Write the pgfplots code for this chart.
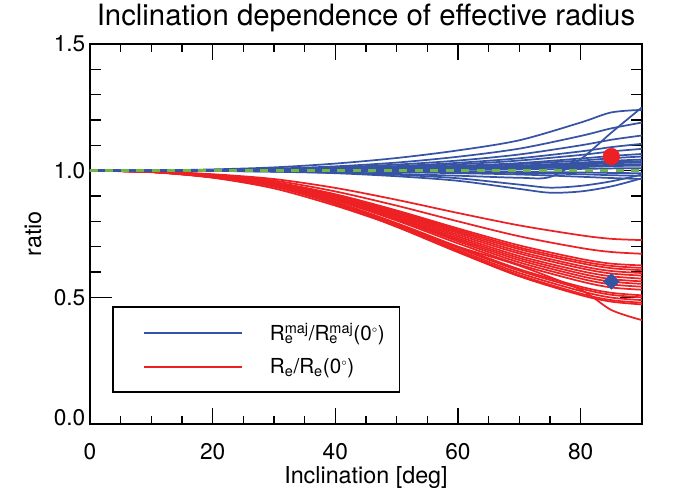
\documentclass[border=0pt]{standalone}
\usepackage{pgfplots}
\pgfplotsset{compat=1.18}
\usepackage{fontspec}
\setmainfont{TeX Gyre Heros}
\definecolor{cblue}{RGB}{55,83,164}
\definecolor{cred}{RGB}{237,32,36}
\definecolor{cgreen}{RGB}{110,182,72}
\tikzset{
  bl/.style={cblue, line width=1.3pt, smooth},
  rd/.style={cred, line width=1.3pt, smooth},
}
\newcommand{\dg}{\textsuperscript{\raisebox{0.2ex}{\fontsize{7}{7}\selectfont$\circ$}}}
\begin{document}
\begin{tikzpicture}
\begin{axis}[
  width=414pt, height=285pt, scale only axis,
  xmin=0, xmax=90, ymin=0, ymax=1.5,
  xtick={0,20,40,60,80}, ytick={0.5,1,1.5},
  extra y ticks={0},
  extra y tick style={yticklabel style={yshift=5pt}},
  minor x tick num=3, minor y tick num=4,
  tick align=inside,
  axis line style={line width=1.5pt},
  xtick style={line width=1.2pt, black, /pgfplots/major tick length=12pt, /pgfplots/minor tick length=6pt},
  ytick style={line width=1.2pt, black, /pgfplots/major tick length=16.5pt, /pgfplots/minor tick length=8.3pt},
  /pgf/number format/assume math mode=true,
  yticklabel style={/pgf/number format/fixed, /pgf/number format/fixed zerofill, /pgf/number format/precision=1},
  xticklabel style={yshift=-11pt},
  tick label style={font=\fontsize{17}{19}\selectfont},
  xlabel={Inclination [deg]}, ylabel={ratio},
  label style={font=\fontsize{17.5}{19}\selectfont},
  xlabel style={at={(axis description cs:0.5,-0.141)}, anchor=center},
  ylabel style={at={(axis description cs:-0.103,0.5)}, anchor=center},
  every axis title shift=0pt,
  title={Inclination dependence of effective radius},
  title style={font=\fontsize{22}{24}\selectfont, at={(axis description cs:0.5,1.068)}, anchor=center},
  legend cell align=left,
  legend image code/.code={\draw[#1] (0pt,0pt) (13pt,0pt) -- (86.5pt,0pt);},
  legend style={at={(0.04,0.082)}, anchor=south west, draw=black, line width=1.2pt,
    font=\fontsize{15.5}{17}\selectfont, inner xsep=10pt, inner ysep=11.25pt,
    nodes={inner sep=1pt}, row sep=10pt, column sep=19pt},
]
% red curves
\addplot[rd, forget plot] coordinates {(0,1) (10,0.997) (20,0.986) (30,0.967) (40,0.932) (50,0.885) (60,0.833) (70,0.784) (80,0.745) (85,0.731) (90,0.726)};
\addplot[rd, forget plot] coordinates {(0,1) (10,0.997) (20,0.984) (30,0.961) (40,0.918) (50,0.862) (60,0.800) (70,0.741) (80,0.695) (85,0.679) (90,0.672)};
\addplot[rd, forget plot] coordinates {(0,1) (10,0.996) (20,0.981) (30,0.955) (40,0.907) (50,0.843) (60,0.772) (70,0.705) (80,0.652) (85,0.633) (90,0.626)};
\addplot[rd, forget plot] coordinates {(0,1) (10,0.996) (20,0.981) (30,0.954) (40,0.904) (50,0.839) (60,0.766) (70,0.697) (80,0.643) (85,0.624) (90,0.616)};
\addplot[rd, forget plot] coordinates {(0,1) (10,0.996) (20,0.980) (30,0.953) (40,0.902) (50,0.835) (60,0.760) (70,0.690) (80,0.635) (85,0.615) (90,0.607)};
\addplot[rd, forget plot] coordinates {(0,1) (10,0.996) (20,0.980) (30,0.952) (40,0.899) (50,0.830) (60,0.754) (70,0.681) (80,0.624) (85,0.604) (90,0.596)};
\addplot[rd, forget plot] coordinates {(0,1) (10,0.996) (20,0.979) (30,0.950) (40,0.897) (50,0.826) (60,0.747) (70,0.673) (80,0.615) (85,0.594) (90,0.586)};
\addplot[rd, forget plot] coordinates {(0,1) (10,0.996) (20,0.979) (30,0.949) (40,0.894) (50,0.821) (60,0.740) (70,0.663) (80,0.604) (85,0.583) (90,0.574)};
\addplot[rd, forget plot] coordinates {(0,1) (10,0.996) (20,0.978) (30,0.948) (40,0.891) (50,0.816) (60,0.733) (70,0.655) (80,0.594) (85,0.572) (90,0.563)};
\addplot[rd, forget plot] coordinates {(0,1) (10,0.996) (20,0.978) (30,0.946) (40,0.888) (50,0.812) (60,0.727) (70,0.647) (80,0.584) (85,0.562) (90,0.553)};
\addplot[rd, forget plot] coordinates {(0,1) (10,0.995) (20,0.977) (30,0.945) (40,0.886) (50,0.808) (60,0.721) (70,0.638) (80,0.574) (85,0.551) (90,0.542)};
\addplot[rd, forget plot] coordinates {(0,1) (10,0.995) (20,0.977) (30,0.944) (40,0.883) (50,0.803) (60,0.713) (70,0.629) (80,0.563) (85,0.539) (90,0.530)};
\addplot[rd, forget plot] coordinates {(0,1) (10,0.995) (20,0.975) (30,0.941) (40,0.877) (50,0.793) (60,0.700) (70,0.611) (80,0.542) (85,0.518) (90,0.508)};
\addplot[rd, forget plot] coordinates {(0,1) (10,0.995) (20,0.975) (30,0.940) (40,0.875) (50,0.790) (60,0.695) (70,0.605) (80,0.535) (85,0.510) (90,0.500)};
\addplot[rd, forget plot] coordinates {(0,1) (10,0.995) (20,0.974) (30,0.939) (40,0.872) (50,0.785) (60,0.688) (70,0.596) (80,0.525) (85,0.499) (90,0.489)};
\addplot[rd, forget plot] coordinates {(0,1) (10,0.995) (20,0.974) (30,0.937) (40,0.870) (50,0.781) (60,0.682) (70,0.588) (80,0.515) (85,0.489) (90,0.479)};
\addplot[rd, forget plot] coordinates {(0,1) (10,0.995) (20,0.974) (30,0.937) (40,0.868) (50,0.778) (60,0.678) (70,0.583) (80,0.509) (85,0.483) (90,0.472)};
\addplot[rd, forget plot] coordinates {(0,1) (10,0.994) (20,0.972) (30,0.930) (40,0.862) (50,0.782) (60,0.700) (70,0.625) (80,0.530) (85,0.450) (90,0.410)};
% blue curves
\addplot[bl, forget plot] coordinates {(0,1) (10,1.001) (20,1.005) (30,1.013) (40,1.028) (50,1.050) (60,1.080) (70,1.120) (80,1.190) (85,1.230) (90,1.240)};
\addplot[bl, forget plot] coordinates {(0,1) (10,1.001) (20,1.003) (30,1.008) (40,1.017) (50,1.032) (60,1.055) (70,1.087) (80,1.137) (85,1.167) (90,1.190)};
\addplot[bl, forget plot] coordinates {(0,1) (10,1.000) (20,1.002) (30,1.006) (40,1.013) (50,1.024) (60,1.040) (70,1.064) (80,1.100) (85,1.122) (90,1.139)};
\addplot[bl, forget plot] coordinates {(0,1) (10,1.000) (20,1.002) (30,1.004) (40,1.010) (50,1.018) (60,1.031) (70,1.049) (80,1.076) (85,1.093) (90,1.106)};
\addplot[bl, forget plot] coordinates {(0,1) (10,1.000) (20,1.001) (30,1.003) (40,1.008) (50,1.015) (60,1.025) (70,1.040) (80,1.062) (85,1.076) (90,1.086)};
\addplot[bl, forget plot] coordinates {(0,1) (10,1.000) (20,1.001) (30,1.003) (40,1.006) (50,1.011) (60,1.019) (70,1.030) (80,1.048) (85,1.058) (90,1.066)};
\addplot[bl, forget plot] coordinates {(0,1) (10,1.000) (20,1.001) (30,1.002) (40,1.005) (50,1.010) (60,1.016) (70,1.026) (80,1.040) (85,1.049) (90,1.056)};
\addplot[bl, forget plot] coordinates {(0,1) (10,1.000) (20,1.001) (30,1.002) (40,1.004) (50,1.007) (60,1.013) (70,1.020) (80,1.032) (85,1.039) (90,1.044)};
\addplot[bl, forget plot] coordinates {(0,1) (10,1.000) (20,1.001) (30,1.002) (40,1.004) (50,1.008) (60,1.012) (70,1.018) (80,1.028) (85,1.033) (90,1.038)};
\addplot[bl, forget plot] coordinates {(0,1) (10,1.000) (20,1.000) (30,1.001) (40,1.003) (50,1.006) (60,1.010) (70,1.015) (80,1.024) (85,1.029) (90,1.033)};
\addplot[bl, forget plot] coordinates {(0,1) (10,1.000) (20,1.000) (30,1.001) (40,1.002) (50,1.004) (60,1.008) (70,1.012) (80,1.019) (85,1.023) (90,1.026)};
\addplot[bl, forget plot] coordinates {(0,1) (10,1.000) (20,1.000) (30,1.001) (40,1.002) (50,1.003) (60,1.006) (70,1.009) (80,1.014) (85,1.018) (90,1.020)};
\addplot[bl, forget plot] coordinates {(0,1) (10,1.000) (20,1.000) (30,1.000) (40,1.001) (50,1.002) (60,1.003) (70,1.005) (80,1.007) (85,1.009) (90,1.010)};
\addplot[bl, forget plot] coordinates {(0,1) (10,1.000) (20,1.000) (30,0.999) (40,0.999) (50,0.998) (60,0.997) (70,0.995) (80,0.993) (85,0.991) (90,0.990)};
\addplot[bl, forget plot] coordinates {(0,1) (10,1.000) (20,1.000) (30,0.999) (40,0.998) (50,0.997) (60,0.994) (70,0.991) (80,0.986) (85,0.982) (90,0.980)};
\addplot[bl, forget plot] coordinates {(0,1) (10,1.000) (20,1.000) (30,0.999) (40,0.997) (50,0.994) (60,0.990) (70,0.985) (80,0.976) (85,0.971) (90,0.967)};
\addplot[bl, forget plot] coordinates {(0,1) (10,1.000) (20,0.999) (30,0.996) (40,0.990) (50,0.978) (60,0.960) (70,0.928) (75,0.913) (80,0.918) (85,0.938) (90,0.970)};
\addplot[bl, forget plot] coordinates {(0,1) (10,1.000) (20,0.999) (30,0.997) (40,0.992) (50,0.984) (60,0.970) (70,0.945) (75,0.933) (80,0.940) (85,0.958) (90,0.985)};
\addplot[bl, forget plot] coordinates {(0,1) (10,1.000) (20,0.999) (30,0.997) (40,0.993) (50,0.987) (60,0.980) (70,0.972) (75,0.975) (80,1.045) (85,1.150) (90,1.250)};
% reference line and markers
\addplot[cgreen, line width=2.6pt, dash pattern=on 6pt off 5.6pt, forget plot] coordinates {(0,1) (90,1)};
\addplot[only marks, mark=*, mark size=6.2pt, cred, forget plot] coordinates {(85,1.056)};
\addplot[only marks, mark=square*, mark size=4.2pt, cblue, mark options={rotate=45}, forget plot] coordinates {(85,0.563)};
\addlegendimage{draw=cblue, line width=1.3pt}
\addlegendentry{R\rlap{\textsubscript{e}}\textsuperscript{maj}/R\rlap{\textsubscript{e}}\textsuperscript{maj}(0\dg)}
\addlegendimage{draw=cred, line width=1.3pt}
\addlegendentry{R\textsubscript{e}/R\textsubscript{e}(0\dg)}
\coordinate (bbl) at (rel axis cs:-0.1630,-0.1658);
\coordinate (btr) at (rel axis cs:1.0598,1.1158);
\end{axis}
\pgfresetboundingbox
\path (bbl) rectangle (btr);
\end{tikzpicture}
\end{document}
